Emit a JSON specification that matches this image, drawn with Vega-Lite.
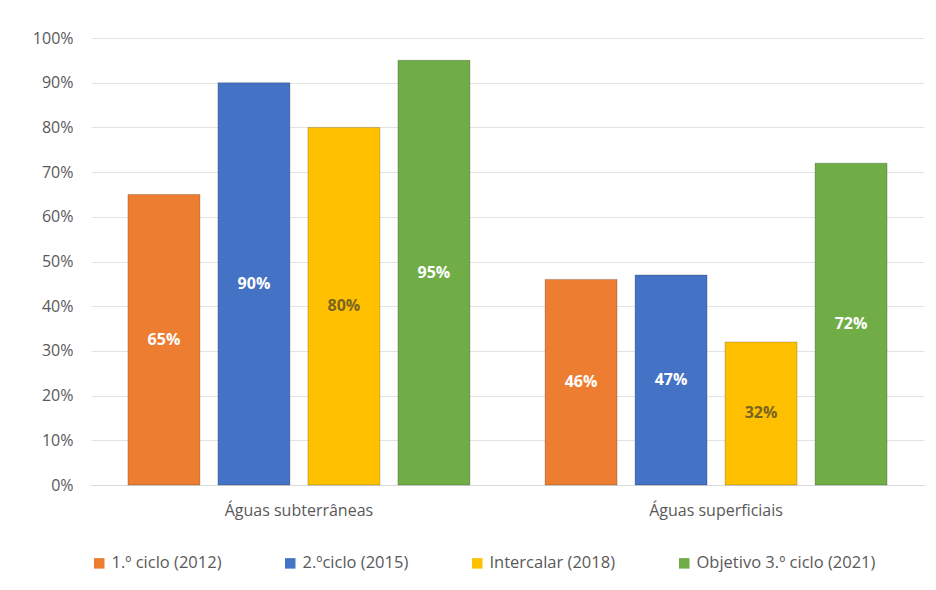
{
  "$schema": "https://vega.github.io/schema/vega-lite/v6.json",
  "width": 833,
  "height": 447,
  "autosize": {"type": "none"},
  "padding": {"left": 91, "top": 38, "right": 12, "bottom": 105},
  "background": "white",
  "config": {
    "font": "Open Sans",
    "view": {"stroke": null},
    "axis": {"labelColor": "#595959", "labelFontSize": 16, "labelFont": "Open Sans"}
  },
  "data": {
    "values": [
      {"categoria": "Águas subterrâneas", "serie": "1.º ciclo (2012)", "valor": 0.65},
      {"categoria": "Águas subterrâneas", "serie": "2.ºciclo (2015)", "valor": 0.90},
      {"categoria": "Águas subterrâneas", "serie": "Intercalar (2018)", "valor": 0.80},
      {"categoria": "Águas subterrâneas", "serie": "Objetivo 3.º ciclo (2021)", "valor": 0.95},
      {"categoria": "Águas superficiais", "serie": "1.º ciclo (2012)", "valor": 0.46},
      {"categoria": "Águas superficiais", "serie": "2.ºciclo (2015)", "valor": 0.47},
      {"categoria": "Águas superficiais", "serie": "Intercalar (2018)", "valor": 0.32},
      {"categoria": "Águas superficiais", "serie": "Objetivo 3.º ciclo (2021)", "valor": 0.72}
    ]
  },
  "encoding": {
    "x": {
      "field": "categoria", "type": "nominal", "title": null,
      "scale": {"paddingInner": 0.137, "paddingOuter": 0.067},
      "axis": {"labelAngle": 0, "domain": true, "domainColor": "#d9d9d9", "ticks": false, "labelPadding": 17, "labelFontSize": 16}
    },
    "xOffset": {
      "field": "serie", "type": "nominal",
      "sort": ["1.º ciclo (2012)", "2.ºciclo (2015)", "Intercalar (2018)", "Objetivo 3.º ciclo (2021)"],
      "scale": {"paddingInner": 0.2, "paddingOuter": 0.1}
    }
  },
  "layer": [
    {
      "mark": {"type": "bar", "stroke": "#00000033", "strokeWidth": 1},
      "encoding": {
        "y": {
          "field": "valor", "type": "quantitative", "title": null,
          "scale": {"domain": [0, 1]},
          "axis": {"format": ".0%", "values": [0,0.1,0.2,0.3,0.4,0.5,0.6,0.7,0.8,0.9,1], "labelOverlap": false, "domain": false, "ticks": false, "gridColor": "#e3e3e3", "labelPadding": 18}
        },
        "color": {
          "field": "serie", "type": "nominal",
          "sort": ["1.º ciclo (2012)", "2.ºciclo (2015)", "Intercalar (2018)", "Objetivo 3.º ciclo (2021)"],
          "scale": {
            "domain": ["1.º ciclo (2012)", "2.ºciclo (2015)", "Intercalar (2018)", "Objetivo 3.º ciclo (2021)"],
            "range": ["#ED7D31", "#4472C4", "#FFC000", "#70AD47"]
          },
          "legend": {
            "title": null, "orient": "bottom", "direction": "horizontal",
            "symbolType": "square", "symbolSize": 110, "symbolStrokeWidth": 0,
            "labelFontSize": 16.5, "labelColor": "#595959", "columnPadding": 60,
            "labelLimit": 400, "offset": 37, "labelFont": "Open Sans"
          }
        }
      }
    },
    {
      "transform": [{"calculate": "datum.valor / 2", "as": "meio"}],
      "mark": {"type": "text", "fontWeight": "bold", "fontSize": 16, "font": "Open Sans"},
      "encoding": {
        "y": {"field": "meio", "type": "quantitative", "scale": {"domain": [0, 1]}},
        "text": {"field": "valor", "type": "quantitative", "format": ".0%"},
        "color": {
          "condition": {"test": "datum.serie === 'Intercalar (2018)'", "value": "#7a6420"},
          "value": "#ffffff"
        }
      }
    }
  ]
}
